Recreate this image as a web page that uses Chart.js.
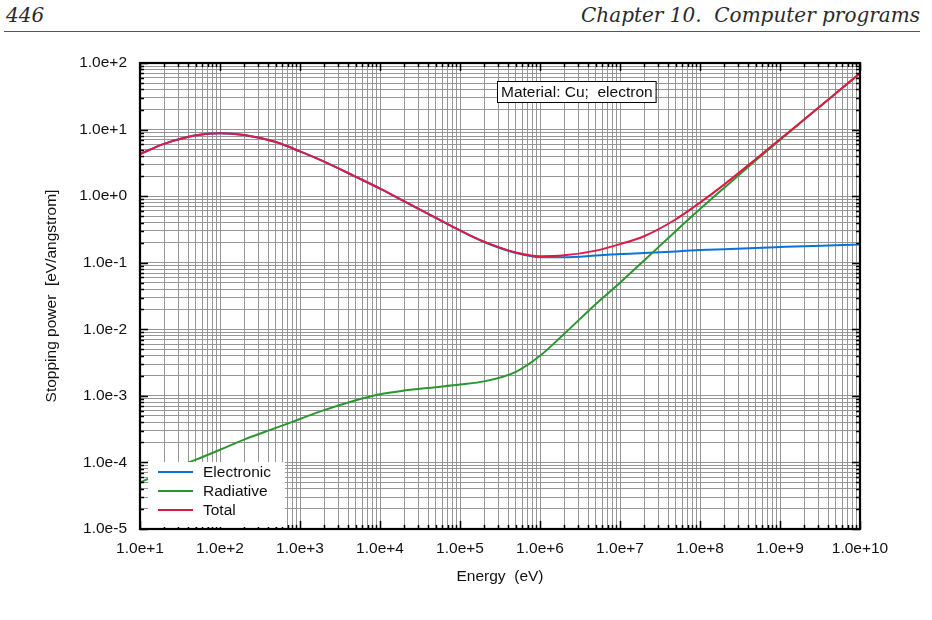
<!DOCTYPE html>
<html lang="en">
<head>
<meta charset="UTF-8">
<title>Stopping power - Cu, electron</title>
<script src="https://cdn.jsdelivr.net/npm/chart.js@4.4.1/dist/chart.umd.min.js"></script>
<style>
  html, body { margin: 0; padding: 0; background: #fff; }
  #page { position: relative; width: 932px; height: 620px; overflow: hidden; }
  .runhead {
    position: absolute; top: 3px;
    font-family: "DejaVu Serif", "Liberation Serif", serif;
    font-style: italic; font-size: 20px; color: #2a2a2a;
  }
  #pageNo { left: 6px; }
  #chapter { right: 12px; }
  #rule { position: absolute; left: 4px; right: 12px; top: 31px; border-top: 1.5px solid #555; }
  #chartBox { position: absolute; left: 0; top: 0; width: 932px; height: 620px; }
</style>
</head>
<body>
<div id="page">
  <div class="runhead" id="pageNo">446</div>
  <div class="runhead" id="chapter">Chapter 10.&nbsp; Computer programs</div>
  <div id="rule"></div>
  <div id="chartBox"><canvas id="spChart"></canvas></div>
</div>

<script>
// energies (eV)
const energy = [1e1, 2e1, 5e1, 1e2, 2e2, 5e2, 1e3, 2e3, 5e3, 1e4, 2e4, 5e4, 1e5, 2e5, 5e5,
                1e6, 2e6, 5e6, 1e7, 2e7, 5e7, 1e8, 2e8, 5e8, 1e9, 2e9, 5e9, 1e10];

// stopping power (eV/angstrom)
const electronic = [4.3, 6.1, 8.2, 8.8, 8.3, 6.5, 4.7, 3.3, 1.95, 1.3, 0.84, 0.47, 0.305, 0.205, 0.14,
                    0.121, 0.121, 0.128, 0.135, 0.14, 0.148, 0.155, 0.16, 0.167, 0.172, 0.177, 0.183, 0.188];
const radiative = [5.0e-5, 7.2e-5, 1.1e-4, 1.55e-4, 2.2e-4, 3.3e-4, 4.5e-4, 6.1e-4, 8.6e-4, 1.06e-3, 1.2e-3, 1.35e-3, 1.48e-3, 1.65e-3, 2.3e-3,
                   4.0e-3, 8.5e-3, 0.024, 0.05, 0.108, 0.30, 0.64, 1.33, 3.45, 7.0, 14, 35, 70];
const total = [4.3, 6.1, 8.2, 8.8, 8.3, 6.5, 4.7, 3.3, 1.95, 1.3, 0.84, 0.47, 0.305, 0.207, 0.142,
               0.125, 0.129, 0.152, 0.19, 0.25, 0.45, 0.8, 1.49, 3.62, 7.17, 14.2, 35.2, 70.2];

const seriesNames = ['Electronic', 'Radiative', 'Total'];
const seriesColors = ['#0a74d6', '#2b952f', '#dc1a44'];

// decade exponents of the axes
const xDecades = [1, 2, 3, 4, 5, 6, 7, 8, 9, 10];
const yDecades = [-5, -4, -3, -2, -1, 0, 1, 2];

const xTitle = 'Energy  (eV)';
const yTitle = 'Stopping power  [eV/angstrom]';
const noteText = 'Material: Cu;  electron';

// 1..9 x 10^k for every decade, plus the last decade
function logTicks(exps) {
  const out = [];
  for (let i = 0; i < exps.length - 1; i++) {
    for (let m = 1; m <= 9; m++) out.push(Number(m + 'e' + exps[i]));
  }
  out.push(Number('1e' + exps[exps.length - 1]));
  return out;
}
const xTickValues = logTicks(xDecades);
const yTickValues = logTicks(yDecades);

function isDecade(v) {
  const l = Math.log10(v);
  return Math.abs(l - Math.round(l)) < 1e-9;
}

const font = { family: '"Liberation Sans", Arial, sans-serif', size: 15.5 };

// frame, inner tick marks, legend box and the material note
const decorations = {
  id: 'decorations',
  afterDraw(chart) {
    const ctx = chart.ctx;
    const a = chart.chartArea;
    const xs = chart.scales.x, ys = chart.scales.y;
    ctx.save();

    // inward tick marks on all four sides
    ctx.strokeStyle = '#000';
    ctx.lineWidth = 1.5;
    ctx.beginPath();
    xTickValues.forEach(v => {
      const px = Math.round(xs.getPixelForValue(v)) + 0.5;
      const len = isDecade(v) ? 8 : 4;
      ctx.moveTo(px, a.top); ctx.lineTo(px, a.top + len);
      ctx.moveTo(px, a.bottom); ctx.lineTo(px, a.bottom - len);
    });
    yTickValues.forEach(v => {
      const py = Math.round(ys.getPixelForValue(v)) + 0.5;
      const len = isDecade(v) ? 8 : 4;
      ctx.moveTo(a.left, py); ctx.lineTo(a.left + len, py);
      ctx.moveTo(a.right, py); ctx.lineTo(a.right - len, py);
    });
    ctx.stroke();

    // legend, lower left inside the plot
    const lx = a.left + 8, ly = a.bottom - 67;
    ctx.fillStyle = '#fff';
    ctx.fillRect(lx, ly, 137, 65);
    ctx.font = font.size + 'px ' + font.family;
    ctx.textBaseline = 'middle';
    ctx.textAlign = 'left';
    chart.data.datasets.forEach((ds, i) => {
      const y = ly + 10 + i * 19;
      ctx.strokeStyle = ds.borderColor;
      ctx.lineWidth = 2;
      ctx.beginPath();
      ctx.moveTo(lx + 10, y); ctx.lineTo(lx + 45, y);
      ctx.stroke();
      ctx.fillStyle = '#111';
      ctx.fillText(ds.label, lx + 55, y + 1);
    });

    // frame
    ctx.strokeStyle = '#000';
    ctx.lineWidth = 2.2;
    ctx.strokeRect(a.left, a.top, a.right - a.left, a.bottom - a.top);

    // material note
    const nx = 497, ny = 81;
    const w = ctx.measureText(noteText).width + 7;
    ctx.fillStyle = '#fff';
    ctx.fillRect(nx, ny, w, 21);
    ctx.strokeStyle = '#000';
    ctx.lineWidth = 1;
    ctx.strokeRect(nx + 0.5, ny + 0.5, w, 21);
    ctx.fillStyle = '#111';
    ctx.fillText(noteText, nx + 4, ny + 11.5);

    ctx.restore();
  }
};

const seriesData = [electronic, radiative, total];

new Chart(document.getElementById('spChart'), {
  type: 'line',
  data: {
    datasets: seriesNames.map((name, i) => ({
      label: name,
      data: energy.map((e, j) => ({ x: e, y: seriesData[i][j] })),
      borderColor: seriesColors[i],
      backgroundColor: seriesColors[i],
      borderWidth: 2,
      pointRadius: 0,
      fill: false,
      cubicInterpolationMode: 'monotone',
      order: 3 - i
    }))
  },
  options: {
    responsive: true,
    maintainAspectRatio: false,
    animation: false,
    layout: { padding: { left: 0, top: 63, right: 72, bottom: 0 } },
    plugins: {
      legend: { display: false },
      tooltip: { enabled: false }
    },
    scales: {
      x: {
        type: 'logarithmic',
        min: 1e1, max: 1e10,
        afterFit: s => { s.height = 91; },
        afterBuildTicks: s => { s.ticks = xTickValues.map(v => ({ value: v, major: isDecade(v) })); },
        grid: { color: 'rgb(150,150,150)', lineWidth: 1, drawTicks: false },
        border: { display: false },
        ticks: {
          autoSkip: false, maxRotation: 0, padding: 10,
          color: '#111', font: font,
          callback: v => isDecade(v) ? Number(v).toExponential(1) : ''
        },
        title: { display: true, text: xTitle, color: '#111', font: font, padding: { top: 0, bottom: 34 } }
      },
      y: {
        type: 'logarithmic',
        min: 1e-5, max: 1e2,
        afterFit: s => { s.width = 140; },
        afterBuildTicks: s => { s.ticks = yTickValues.map(v => ({ value: v, major: isDecade(v) })); },
        grid: { color: 'rgb(150,150,150)', lineWidth: 1, drawTicks: false },
        border: { display: false },
        ticks: {
          autoSkip: false, padding: 13,
          color: '#111', font: font,
          callback: v => isDecade(v) ? Number(v).toExponential(1) : ''
        },
        title: { display: true, text: yTitle, color: '#111', font: font, padding: { top: 42, bottom: 0 } }
      }
    }
  },
  plugins: [decorations]
});
</script>
</body>
</html>
